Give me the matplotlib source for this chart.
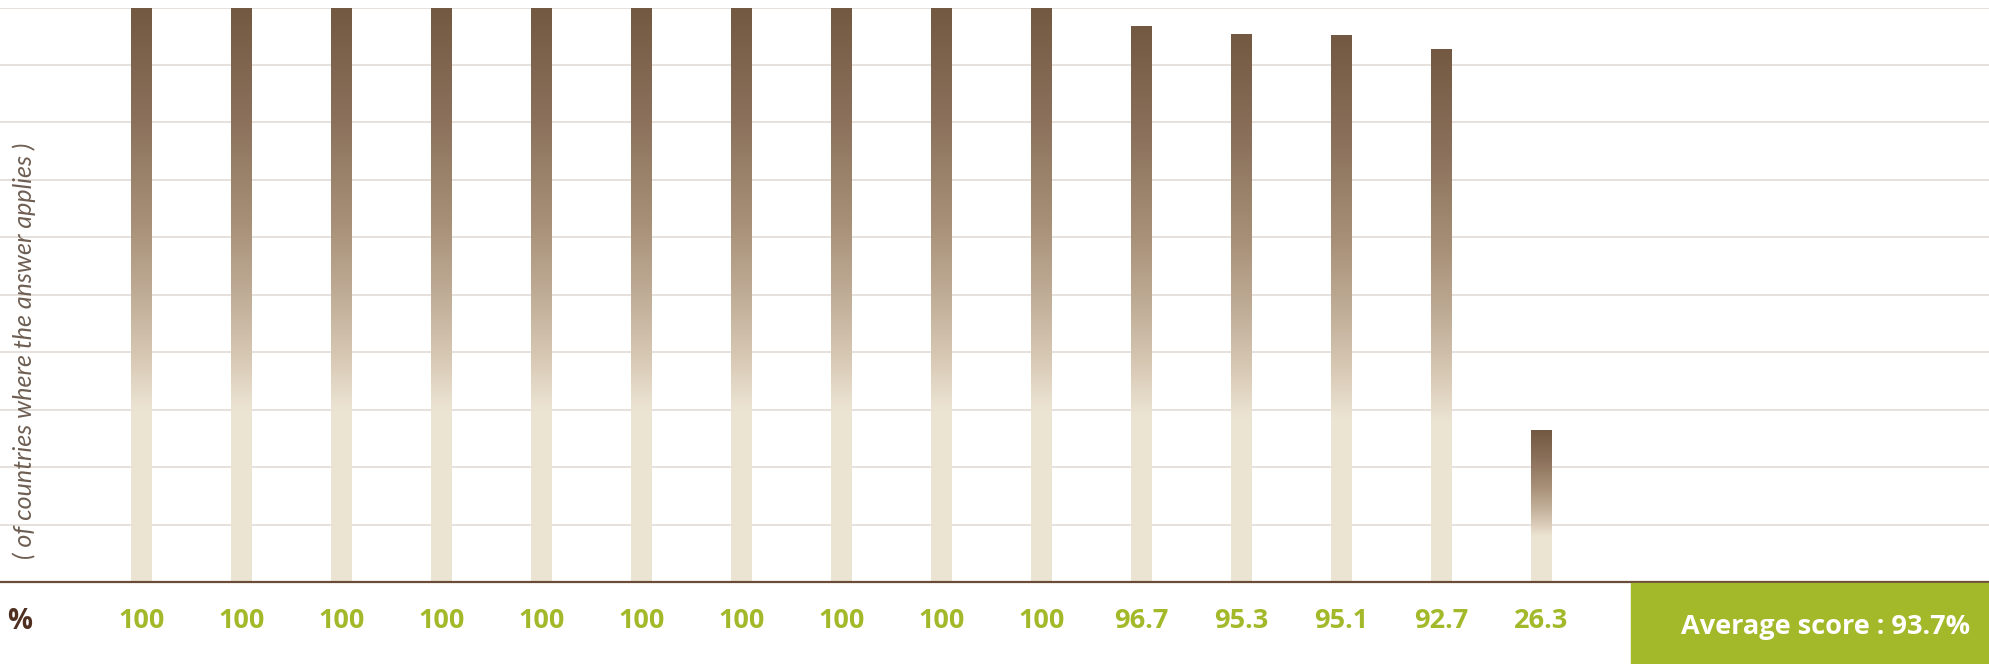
import numpy as np
import matplotlib
matplotlib.use("Agg")
import matplotlib.pyplot as plt
from matplotlib.colors import LinearSegmentedColormap
from matplotlib.patches import Rectangle
from matplotlib.transforms import blended_transform_factory

# scores per question, % of countries where the answer applies
scores = [100, 100, 100, 100, 100, 100, 100, 100, 100, 100,
          96.7, 95.3, 95.1, 92.7, 26.3]
value_labels = ["100", "100", "100", "100", "100", "100", "100", "100",
                "100", "100", "96.7", "95.3", "95.1", "92.7", "26.3"]
y_title = "( of countries where the answer applies )"
unit_label = "%"
avg_prefix = "Average score : "

W, H = 1990, 664
fig = plt.figure(figsize=(W / 100, H / 100), dpi=100)

base_px = 582      # baseline, pixels from top
top_px = 7.5       # 100% gridline
ax = fig.add_axes([0, (H - base_px) / H, 1, (base_px - top_px) / H])
ax.set_axis_off()

# cream at the foot, fading to dark brown at the top of each bar
bar_cmap = LinearSegmentedColormap.from_list("bar", [
    (0.00, "#ede5d4"),
    (0.30, "#ece4d3"),
    (0.37, "#dccebb"),
    (0.48, "#c3b19b"),
    (0.62, "#a99179"),
    (0.80, "#8c725c"),
    (1.00, "#735842"),
])
grad = np.linspace(0, 1, 256).reshape(-1, 1)

x = np.arange(len(scores))
bar_w = 0.21
for xi, v in zip(x, scores):
    ax.imshow(grad, cmap=bar_cmap, origin="lower", aspect="auto",
              extent=(xi - bar_w / 2, xi + bar_w / 2, 0, v),
              interpolation="bilinear", zorder=2)

for g in range(10, 101, 10):
    ax.axhline(g, color="#e2dcd6", lw=1.2, zorder=1)
ax.axhline(0, color="#6b4c38", lw=1.6, zorder=3, clip_on=False)

ax.set_xlim(-1.415, 18.485)
ax.set_ylim(0, 100)

# values under each bar
trans = blended_transform_factory(ax.transData, fig.transFigure)
green = "#a3b92a"
bold_font = dict(family="Open Sans", fontweight="bold")
for xi, lab in zip(x, value_labels):
    ax.text(xi, (H - 628.5) / H, lab, transform=trans, ha="center",
            va="baseline", color=green, fontsize=19.5, **bold_font)

fig.text(20 / W, (H - 629) / H, unit_label, ha="center", va="baseline",
         color="#4f3020", fontsize=20, **bold_font)

fig.text(24 / W, (H - 351) / H, y_title, rotation=90, ha="center",
         va="center", color="#6e5e52", fontsize=18, style="italic",
         fontweight="normal", family="Lato")

# average score box
avg = np.mean(scores)
box_left = 1631
fig.patches.append(Rectangle((box_left / W, 0), (W - box_left) / W,
                             (H - 583) / H, transform=fig.transFigure,
                             color=green, zorder=0))
fig.text(1826 / W, (H - 634) / H, f"{avg_prefix}{avg:.1f}%", ha="center",
         va="baseline", color="white", fontsize=19.5, **bold_font)

fig.savefig("out.png", dpi=100)
